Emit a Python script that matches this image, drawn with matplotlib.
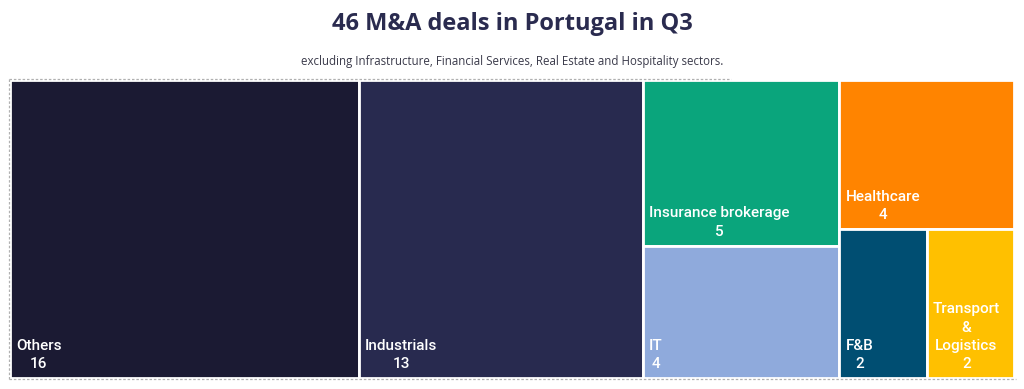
import matplotlib.pyplot as plt
from matplotlib.patches import Rectangle

sectors = ["Others", "Industrials", "Insurance brokerage", "IT",
           "Healthcare", "F&B", "Transport\n&\nLogistics"]
deals = [16, 13, 5, 4, 4, 2, 2]
colors = ["#1B1A33", "#282A4F", "#0AA57C", "#8FAADC",
          "#FF8400", "#004E72", "#FFC000"]

title = "46 M&A deals in Portugal in Q3"
subtitle = "excluding Infrastructure, Financial Services, Real Estate and Hospitality sectors."


def worst(row, side):
    s = sum(row)
    return max(max(side * side * r / (s * s), s * s / (side * side * r)) for r in row)


def layout_row(row, x, y, w, h):
    s = sum(row)
    rects = []
    if w >= h:
        # column on the left
        cw = s / h
        yy = y
        for r in row:
            rh = r / cw
            rects.append((x, yy, cw, rh))
            yy += rh
        return rects, (x + cw, y, w - cw, h)
    rh = s / w
    xx = x
    for r in row:
        rw = r / rh
        rects.append((xx, y, rw, rh))
        xx += rw
    return rects, (x, y + rh, w, h - rh)


def squarify(values, x, y, w, h):
    total = sum(values)
    areas = [v * w * h / total for v in values]
    rects = []
    rect = (x, y, w, h)
    row = []
    i = 0
    while i < len(areas):
        side = min(rect[2], rect[3])
        a = areas[i]
        if not row or worst(row + [a], side) <= worst(row, side):
            row.append(a)
            i += 1
        else:
            r, rect = layout_row(row, *rect)
            rects += r
            row = []
    if row:
        r, rect = layout_row(row, *rect)
        rects += r
    return rects


fig = plt.figure(figsize=(10.24, 3.89), dpi=100)
ax = fig.add_axes([0, 0, 1, 1])
ax.set_xlim(0, 1024)
ax.set_ylim(389, 0)
ax.axis("off")

fig.text(0.5, 1 - 24 / 389, title, ha="center", va="center",
         fontsize=17, fontweight="bold", family="Open Sans", color="#2A2B4F")
fig.text(0.5, 1 - 62 / 389, subtitle, ha="center", va="center",
         fontsize=8.3, family="Open Sans", color="#3A3A4A")

# dotted frame
ax.plot([9, 731], [79, 79], color="#B0B0B0", lw=0.9, ls=(0, (2, 1.5)))
ax.plot([9, 9], [79, 379], color="#B0B0B0", lw=0.9, ls=(0, (2, 1.5)))
ax.plot([9, 1016], [379, 379], color="#B0B0B0", lw=0.9, ls=(0, (2, 1.5)))

boxes = squarify(deals, 10, 80, 1004, 298)
for (bx, by, bw, bh), name, val, c in zip(boxes, sectors, deals, colors):
    ax.add_patch(Rectangle((bx, by), bw, bh, facecolor=c, edgecolor="white", lw=2))
    ax.text(bx + 6, by + bh - 7, f"{name}\n{val}", ha="left", va="bottom",
            multialignment="center", color="white", fontsize=11,
            fontweight="medium", family="Roboto", linespacing=1.38)

fig.savefig("out.png", dpi=100)
